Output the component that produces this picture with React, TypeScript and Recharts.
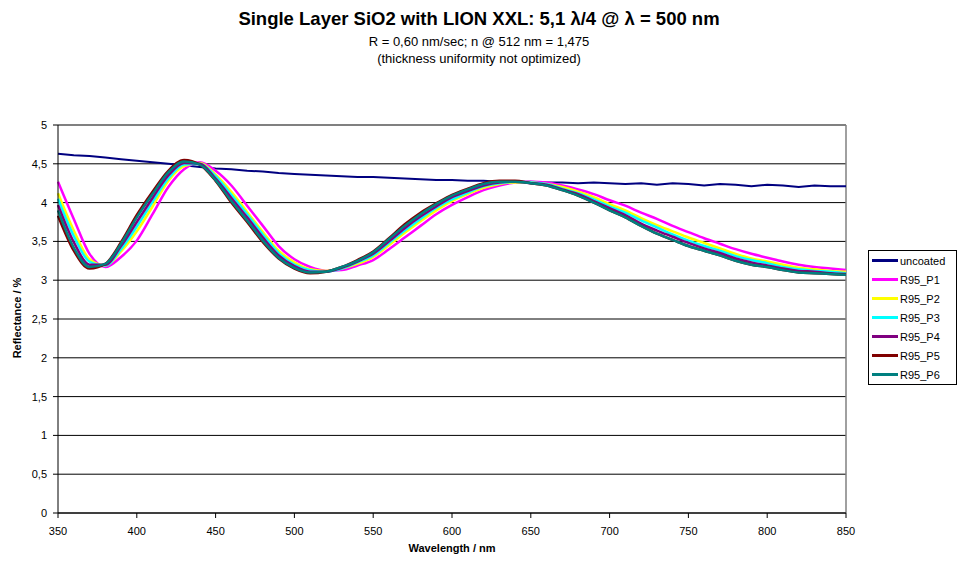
import { LineChart, Line, XAxis, YAxis, CartesianGrid, ReferenceLine } from "recharts";

// wavelength grid (nm)
const wavelengths = [
  350, 360, 370, 380, 390, 400, 410, 420, 430, 440, 450, 460, 470, 480, 490, 500, 510,
  520, 530, 540, 550, 560, 570, 580, 590, 600, 610, 620, 630, 640, 650, 660, 670, 680,
  690, 700, 710, 720, 730, 740, 750, 760, 770, 780, 790, 800, 810, 820, 830, 840, 850,
];

// reflectance in %
const uncoated = [
  4.63, 4.61, 4.6, 4.58, 4.56, 4.54, 4.52, 4.5, 4.48, 4.46, 4.44, 4.43, 4.41, 4.4, 4.38, 4.37, 4.36,
  4.35, 4.34, 4.33, 4.33, 4.32, 4.31, 4.3, 4.29, 4.29, 4.28, 4.28, 4.27, 4.27, 4.27, 4.26, 4.26, 4.25,
  4.26, 4.25, 4.24, 4.25, 4.23, 4.25, 4.24, 4.22, 4.24, 4.23, 4.21, 4.23, 4.22, 4.2, 4.22, 4.21, 4.21,
];
const r95P1 = [
  4.27, 3.79, 3.34, 3.17, 3.3, 3.51, 3.85, 4.2, 4.43, 4.52, 4.41, 4.22, 3.96, 3.7, 3.44, 3.27, 3.17,
  3.12, 3.13, 3.19, 3.26, 3.4, 3.55, 3.7, 3.85, 3.97, 4.07, 4.16, 4.22, 4.26, 4.27, 4.26, 4.22, 4.17,
  4.11, 4.03, 3.96, 3.87, 3.79, 3.7, 3.62, 3.54, 3.47, 3.4, 3.34, 3.29, 3.24, 3.2, 3.17, 3.15, 3.13,
];
const r95P2 = [
  4.12, 3.64, 3.27, 3.19, 3.37, 3.63, 3.95, 4.28, 4.47, 4.51, 4.36, 4.14, 3.88, 3.62, 3.38, 3.23, 3.14,
  3.12, 3.15, 3.21, 3.3, 3.45, 3.61, 3.76, 3.9, 4.02, 4.11, 4.19, 4.24, 4.26, 4.26, 4.24, 4.2, 4.14,
  4.07, 3.98, 3.9, 3.8, 3.71, 3.63, 3.55, 3.48, 3.41, 3.34, 3.28, 3.24, 3.2, 3.16, 3.14, 3.12, 3.11,
];
const r95P3 = [
  4.05, 3.57, 3.24, 3.19, 3.4, 3.69, 4.01, 4.31, 4.49, 4.5, 4.34, 4.1, 3.85, 3.59, 3.35, 3.2, 3.13,
  3.11, 3.15, 3.23, 3.32, 3.48, 3.64, 3.79, 3.93, 4.04, 4.13, 4.21, 4.25, 4.27, 4.26, 4.24, 4.18, 4.12,
  4.04, 3.95, 3.87, 3.77, 3.68, 3.59, 3.51, 3.44, 3.38, 3.31, 3.26, 3.22, 3.17, 3.14, 3.12, 3.11, 3.09,
];
const r95P4 = [
  3.97, 3.49, 3.2, 3.2, 3.44, 3.75, 4.06, 4.35, 4.51, 4.5, 4.31, 4.06, 3.81, 3.55, 3.32, 3.18, 3.11,
  3.11, 3.16, 3.24, 3.34, 3.5, 3.67, 3.82, 3.95, 4.07, 4.15, 4.22, 4.26, 4.27, 4.25, 4.23, 4.17, 4.11,
  4.02, 3.93, 3.84, 3.73, 3.64, 3.56, 3.48, 3.41, 3.35, 3.28, 3.23, 3.19, 3.15, 3.12, 3.11, 3.09, 3.08,
];
const r95P5 = [
  3.83, 3.38, 3.15, 3.21, 3.49, 3.84, 4.14, 4.41, 4.55, 4.49, 4.28, 4.0, 3.75, 3.49, 3.28, 3.15, 3.09,
  3.11, 3.17, 3.26, 3.37, 3.54, 3.72, 3.87, 3.99, 4.1, 4.18, 4.25, 4.28, 4.28, 4.25, 4.22, 4.16, 4.09,
  4.0, 3.9, 3.81, 3.7, 3.6, 3.52, 3.44, 3.38, 3.32, 3.25, 3.2, 3.17, 3.13, 3.1, 3.09, 3.08, 3.07,
];
const r95P6 = [
  3.9, 3.42, 3.17, 3.21, 3.47, 3.81, 4.11, 4.39, 4.53, 4.49, 4.29, 4.02, 3.77, 3.51, 3.29, 3.16, 3.1,
  3.11, 3.17, 3.25, 3.36, 3.53, 3.7, 3.85, 3.98, 4.09, 4.17, 4.24, 4.27, 4.27, 4.25, 4.22, 4.16, 4.09,
  4.0, 3.9, 3.81, 3.7, 3.6, 3.52, 3.44, 3.38, 3.32, 3.25, 3.2, 3.17, 3.13, 3.1, 3.09, 3.08, 3.07,
];

const xTicks = [350, 400, 450, 500, 550, 600, 650, 700, 750, 800, 850];
const yTicks = [0, 0.5, 1, 1.5, 2, 2.5, 3, 3.5, 4, 4.5, 5];

const seriesList = [
  { key: "uncoated", name: "uncoated", color: "#000080", values: uncoated },
  { key: "p1", name: "R95_P1", color: "#FF00FF", values: r95P1 },
  { key: "p2", name: "R95_P2", color: "#FFFF00", values: r95P2 },
  { key: "p3", name: "R95_P3", color: "#00FFFF", values: r95P3 },
  { key: "p4", name: "R95_P4", color: "#800080", values: r95P4 },
  { key: "p5", name: "R95_P5", color: "#800000", values: r95P5 },
  { key: "p6", name: "R95_P6", color: "#008080", values: r95P6 },
];

const data = wavelengths.map((wl, i) => {
  const row: any = { wl };
  seriesList.forEach((s) => {
    row[s.key] = s.values[i];
  });
  return row;
});

const FONT = "'Liberation Sans', Arial, sans-serif";

function comma(v: number) {
  return String(v).replace(".", ",");
}

function LegendBox() {
  return (
    <div
      style={{
        position: "absolute",
        left: 868,
        top: 250,
        border: "1px solid #000",
        background: "#fff",
        paddingLeft: 3,
        width: 84,
      }}
    >
      {seriesList.map((s) => (
        <div key={s.key} style={{ display: "flex", alignItems: "center", height: 19 }}>
          <span
            style={{ display: "inline-block", width: 26, height: 3, background: s.color, marginRight: 2 }}
          />
          <span style={{ fontSize: 11, color: "#000" }}>{s.name}</span>
        </div>
      ))}
    </div>
  );
}

export default function App() {
  return (
    <div
      style={{
        position: "absolute",
        left: 0,
        top: 0,
        width: 958,
        height: 562,
        background: "#fff",
        fontFamily: FONT,
      }}
    >
      <div style={{ position: "absolute", top: 8, width: 958, textAlign: "center", fontSize: 18.5, fontWeight: "bold" }}>
        Single Layer SiO2 with LION XXL: 5,1 λ/4 @ λ = 500 nm
      </div>
      <div style={{ position: "absolute", top: 34, width: 958, textAlign: "center", fontSize: 13 }}>
        R = 0,60 nm/sec; n @ 512 nm = 1,475
      </div>
      <div style={{ position: "absolute", top: 51, width: 958, textAlign: "center", fontSize: 13 }}>
        (thickness uniformity not optimized)
      </div>
      <div
        style={{
          position: "absolute",
          left: 17,
          top: 318,
          fontSize: 11,
          fontWeight: "bold",
          whiteSpace: "nowrap",
          transform: "translate(-50%, -50%) rotate(-90deg)",
        }}
      >
        Reflectance / %
      </div>
      <div
        style={{
          position: "absolute",
          left: 452,
          top: 548,
          fontSize: 11,
          fontWeight: "bold",
          whiteSpace: "nowrap",
          transform: "translate(-50%, -50%)",
        }}
      >
        Wavelength / nm
      </div>
      <LineChart
        width={958}
        height={562}
        data={data}
        margin={{ top: 125, right: 112, bottom: 0, left: 0 }}
        style={{ position: "absolute", left: 0, top: 0 }}
      >
        <CartesianGrid vertical={false} stroke="#000" strokeWidth={1} />
        <XAxis
          dataKey="wl"
          type="number"
          domain={[350, 850]}
          ticks={xTicks}
          height={49}
          tickSize={5}
          tickMargin={9}
          tick={{ fontSize: 11, fill: "#000", fontFamily: FONT }}
          axisLine={{ stroke: "#000" }}
          tickLine={{ stroke: "#000" }}
        />
        <YAxis
          type="number"
          domain={[0, 5]}
          ticks={yTicks}
          width={58}
          tickSize={5}
          tickMargin={6}
          tickFormatter={comma}
          tick={{ fontSize: 11, fill: "#000", fontFamily: FONT }}
          axisLine={{ stroke: "#000" }}
          tickLine={{ stroke: "#000" }}
        />
        <ReferenceLine y={5} stroke="#808080" strokeWidth={1.5} />
        <ReferenceLine x={850} stroke="#808080" strokeWidth={1.5} />
        {seriesList.map((s) => (
          <Line
            key={s.key}
            dataKey={s.key}
            name={s.name}
            type={s.key === "uncoated" ? "linear" : "monotone"}
            stroke={s.color}
            strokeWidth={s.key === "uncoated" ? 2 : 2.5}
            dot={false}
            isAnimationActive={false}
          />
        ))}
      </LineChart>
      <LegendBox />
    </div>
  );
}
